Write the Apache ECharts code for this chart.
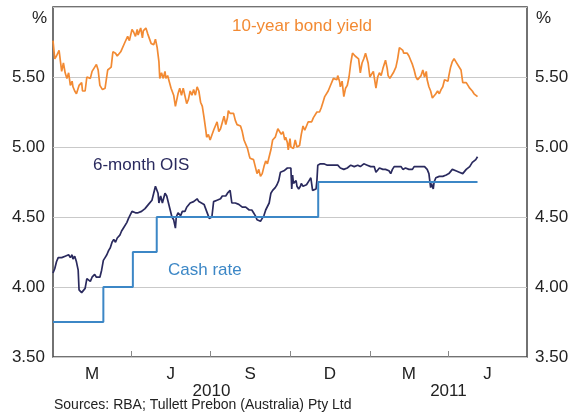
<!DOCTYPE html>
<html>
<head>
<meta charset="utf-8">
<script src="https://cdn.jsdelivr.net/npm/echarts@6/dist/echarts.min.js"></script>
<style>
  html, body { margin: 0; padding: 0; background: #fff; }
  #main { width: 580px; height: 412px; }
</style>
</head>
<body>
<div id="main"></div>
<script>
// days counted from 1 Jan 2010
var bondDays = [0,2,4,7,10,12,14,16,18,20,22,23,25,27,30,33,34,37,39,41,43,45,47,50,52,54,57,60,63,65,67,69,72,74,75,78,80,83,86,88,91,93,95,97,98,101,103,104,107,109,111,113,116,118,120,122,123,125,127,129,130,132,134,136,139,141,144,146,148,150,152,154,156,158,160,162,164,166,168,170,172,174,176,177,179,181,183,185,187,189,191,193,195,197,199,201,202,204,206,208,210,212,214,216,218,220,222,224,226,227,229,231,233,235,237,239,241,243,245,247,249,251,253,254,256,259,261,263,265,267,268,270,271,273,274,277,279,281,283,284,286,288,290,292,294,296,298,300,302,304,306,307,309,311,313,315,317,319,321,323,325,327,328,330,331,333,335,337,339,341,343,345,348,350,352,354,356,358,360,363,365,367,369,372,374,376,378,380,381,383,385,386,388,390,392,395,397,399,401,403,404,406,408,410,412,414,416,418,420,422,424,426,428,430,431,433,435,437,439,441,443,445,447,449,451,453,455,456,458,460,462,464,466,468,470,472,474,476,478,480,482,483,485,487,489];
var bondYield = [5.76,5.63,5.65,5.69,5.54,5.60,5.53,5.49,5.53,5.44,5.47,5.43,5.40,5.38,5.44,5.46,5.40,5.40,5.50,5.51,5.49,5.54,5.56,5.59,5.55,5.44,5.41,5.42,5.55,5.56,5.57,5.68,5.67,5.65,5.65,5.68,5.68,5.75,5.79,5.76,5.84,5.82,5.79,5.84,5.80,5.85,5.78,5.83,5.85,5.81,5.80,5.74,5.73,5.77,5.71,5.61,5.49,5.53,5.49,5.54,5.49,5.51,5.50,5.42,5.37,5.29,5.38,5.42,5.37,5.42,5.43,5.31,5.34,5.40,5.37,5.41,5.37,5.43,5.40,5.32,5.29,5.21,5.12,5.07,5.09,5.05,5.05,5.12,5.11,5.18,5.11,5.13,5.12,5.22,5.16,5.21,5.26,5.24,5.23,5.24,5.19,5.16,5.15,5.15,5.11,5.05,5.04,4.99,4.94,4.92,4.93,4.91,4.86,4.81,4.84,4.79,4.81,4.86,4.90,4.88,4.93,4.98,5.05,5.06,5.07,5.13,5.12,5.09,5.11,5.05,5.07,5.03,4.98,5.06,5.00,4.99,5.05,5.00,4.99,5.01,5.09,5.15,5.12,5.13,5.18,5.19,5.18,5.21,5.22,5.25,5.26,5.25,5.28,5.32,5.36,5.36,5.40,5.43,5.44,5.49,5.50,5.48,5.51,5.47,5.43,5.47,5.36,5.42,5.44,5.50,5.60,5.67,5.65,5.66,5.63,5.53,5.60,5.63,5.67,5.60,5.50,5.51,5.54,5.42,5.50,5.53,5.51,5.56,5.57,5.62,5.56,5.51,5.49,5.49,5.53,5.57,5.63,5.71,5.72,5.69,5.67,5.68,5.67,5.65,5.62,5.59,5.55,5.50,5.48,5.49,5.51,5.55,5.50,5.54,5.48,5.43,5.40,5.35,5.34,5.38,5.40,5.38,5.41,5.43,5.48,5.49,5.47,5.51,5.57,5.61,5.63,5.61,5.60,5.57,5.55,5.46,5.47,5.46,5.44,5.42,5.41,5.40,5.38,5.37,5.36];

var oisDays = [0,2,4,6,8,10,12,14,16,18,20,22,23,25,27,29,30,31,33,35,37,39,41,43,45,47,48,50,52,54,56,58,60,62,64,66,68,70,72,74,75,77,79,81,83,85,87,89,91,93,95,97,98,100,102,104,106,108,110,112,114,116,118,120,121,122,124,126,127,129,131,133,135,137,139,141,142,144,145,147,149,150,152,154,156,158,160,162,164,166,168,170,174,177,180,183,185,187,189,191,193,195,197,199,201,202,204,206,208,210,212,214,216,218,220,222,224,226,227,229,231,233,235,237,239,241,243,245,247,249,251,253,254,256,258,260,262,264,266,268,270,272,274,275,276,277,279,280,281,283,285,286,288,290,292,294,295,297,299,301,303,304,305,308,310,312,314,316,318,320,322,324,326,328,329,331,333,335,337,339,341,343,345,347,349,351,353,354,356,358,360,362,364,366,368,370,372,374,376,378,380,381,383,385,387,389,391,393,395,397,399,401,403,404,406,408,410,412,414,416,418,420,422,424,426,428,430,431,433,434,435,436,438,439,441,443,445,447,449,451,453,455,456,458,460,462,464,466,468,470,472,474,476,478,480,482,483,485,487,489];
var oisRate = [4.10,4.13,4.18,4.21,4.20,4.21,4.21,4.22,4.21,4.23,4.21,4.23,4.20,4.22,4.18,4.12,3.98,3.99,3.96,3.96,3.99,4.06,4.05,4.04,4.07,4.07,4.09,4.07,4.06,4.07,4.12,4.19,4.21,4.23,4.26,4.28,4.32,4.34,4.32,4.35,4.34,4.37,4.40,4.42,4.41,4.46,4.49,4.48,4.54,4.55,4.53,4.54,4.53,4.53,4.54,4.53,4.56,4.56,4.59,4.60,4.62,4.67,4.72,4.73,4.67,4.60,4.65,4.60,4.61,4.67,4.65,4.60,4.55,4.50,4.48,4.42,4.50,4.53,4.53,4.51,4.54,4.55,4.54,4.57,4.56,4.60,4.60,4.61,4.62,4.63,4.61,4.60,4.59,4.54,4.49,4.50,4.61,4.62,4.62,4.63,4.63,4.65,4.66,4.65,4.67,4.68,4.69,4.60,4.59,4.60,4.60,4.59,4.59,4.57,4.56,4.57,4.56,4.55,4.55,4.55,4.53,4.51,4.48,4.48,4.47,4.49,4.51,4.55,4.56,4.60,4.67,4.69,4.69,4.71,4.73,4.76,4.82,4.81,4.83,4.84,4.85,4.86,4.85,4.70,4.80,4.74,4.74,4.76,4.72,4.70,4.72,4.74,4.72,4.72,4.73,4.74,4.76,4.78,4.69,4.68,4.70,4.76,4.87,4.88,4.87,4.88,4.87,4.87,4.86,4.87,4.88,4.87,4.86,4.87,4.86,4.85,4.86,4.84,4.84,4.85,4.86,4.87,4.87,4.86,4.86,4.87,4.86,4.86,4.87,4.88,4.89,4.87,4.86,4.86,4.86,4.86,4.82,4.81,4.85,4.84,4.84,4.85,4.84,4.84,4.83,4.81,4.84,4.86,4.85,4.86,4.86,4.86,4.84,4.84,4.85,4.84,4.84,4.85,4.84,4.86,4.86,4.86,4.86,4.86,4.86,4.86,4.85,4.84,4.81,4.76,4.71,4.74,4.70,4.75,4.78,4.78,4.79,4.78,4.79,4.79,4.80,4.79,4.81,4.81,4.84,4.84,4.83,4.82,4.82,4.81,4.81,4.82,4.84,4.85,4.86,4.87,4.89,4.90,4.91,4.93];

var cashDays = [0, 58, 92, 119.5, 305.5, 489];
var cashRate = [3.75, 4.00, 4.25, 4.50, 4.75, 4.75];

// quarter boundaries and the month letters between them
var tickDays = [90, 181, 273, 365, 455];
var monthDays = [45, 135.5, 227, 319, 410, 500.5];
var monthNames = ['M', 'J', 'S', 'D', 'M', 'J'];
var yearDays = [182.5, 455.5];
var yearNames = ['2010', '2011'];

var FONT = 'Liberation Sans, Arial, sans-serif';
var ORANGE = '#f28a33', NAVY = '#2a2a5e', BLUE = '#3c87c6';

function pairs(xs, ys) {
	return xs.map(function (x, i) { return [x, ys[i]]; });
}

var chart = echarts.init(document.getElementById('main'));

var yAxisBase = {
	type: 'value',
	min: 3.5,
	max: 6,
	interval: 0.5,
	axisLine: { show: false },
	axisTick: { show: false },
	splitLine: { lineStyle: { color: '#c9c9c9', width: 1 } },
	axisLabel: {
		fontFamily: FONT, fontSize: 17, color: '#222', margin: 8,
		formatter: function (v) { return v >= 6 ? '' : v.toFixed(2); }
	}
};

var option = {
	animation: false,
	backgroundColor: '#fff',
	grid: { left: 53, right: 53, top: 7, bottom: 55, show: true, borderColor: '#444', borderWidth: 1.5 },
	xAxis: [{
		type: 'value', min: 0, max: 546,
		axisLine: { show: false },
		splitLine: { show: false },
		axisTick: { show: true, inside: true, length: 6, customValues: tickDays, lineStyle: { color: '#888' } },
		axisLabel: {
			fontFamily: FONT, fontSize: 17, color: '#222', margin: 9,
			customValues: monthDays,
			formatter: function (v) { return monthNames[monthDays.indexOf(v)]; }
		}
	}, {
		type: 'value', min: 0, max: 546, position: 'bottom', offset: 17,
		axisLine: { show: false },
		splitLine: { show: false },
		axisTick: { show: false },
		axisLabel: {
			fontFamily: FONT, fontSize: 17, color: '#222', margin: 9,
			customValues: yearDays,
			formatter: function (v) { return yearNames[yearDays.indexOf(v)]; }
		}
	}],
	yAxis: [
		echarts.util.merge({ position: 'left' }, yAxisBase, true),
		echarts.util.merge({ position: 'right', splitLine: { show: false } }, yAxisBase)
	],
	series: [{
		name: '10-year bond yield', type: 'line', showSymbol: false,
		lineStyle: { color: ORANGE, width: 1.7 },
		data: pairs(bondDays, bondYield)
	}, {
		name: '6-month OIS', type: 'line', showSymbol: false,
		lineStyle: { color: NAVY, width: 1.7 },
		data: pairs(oisDays, oisRate)
	}, {
		name: 'Cash rate', type: 'line', showSymbol: false, step: 'end',
		lineStyle: { color: BLUE, width: 2 },
		data: pairs(cashDays, cashRate)
	}],
	graphic: [
		{ type: 'text', left: 32, top: 10, style: { text: '%', font: '17px ' + FONT, fill: '#222' } },
		{ type: 'text', left: 536, top: 10, style: { text: '%', font: '17px ' + FONT, fill: '#222' } },
		{ type: 'text', left: 232, top: 18, style: { text: '10-year bond yield', font: '17px ' + FONT, fill: ORANGE } },
		{ type: 'text', left: 93, top: 157, style: { text: '6-month OIS', font: '17px ' + FONT, fill: NAVY } },
		{ type: 'text', left: 168, top: 262, style: { text: 'Cash rate', font: '17px ' + FONT, fill: BLUE } },
		{ type: 'text', left: 54, top: 398, style: { text: 'Sources: RBA; Tullett Prebon (Australia) Pty Ltd', font: '14px ' + FONT, fill: '#222' } }
	]
};

chart.setOption(option);
</script>
</body>
</html>
